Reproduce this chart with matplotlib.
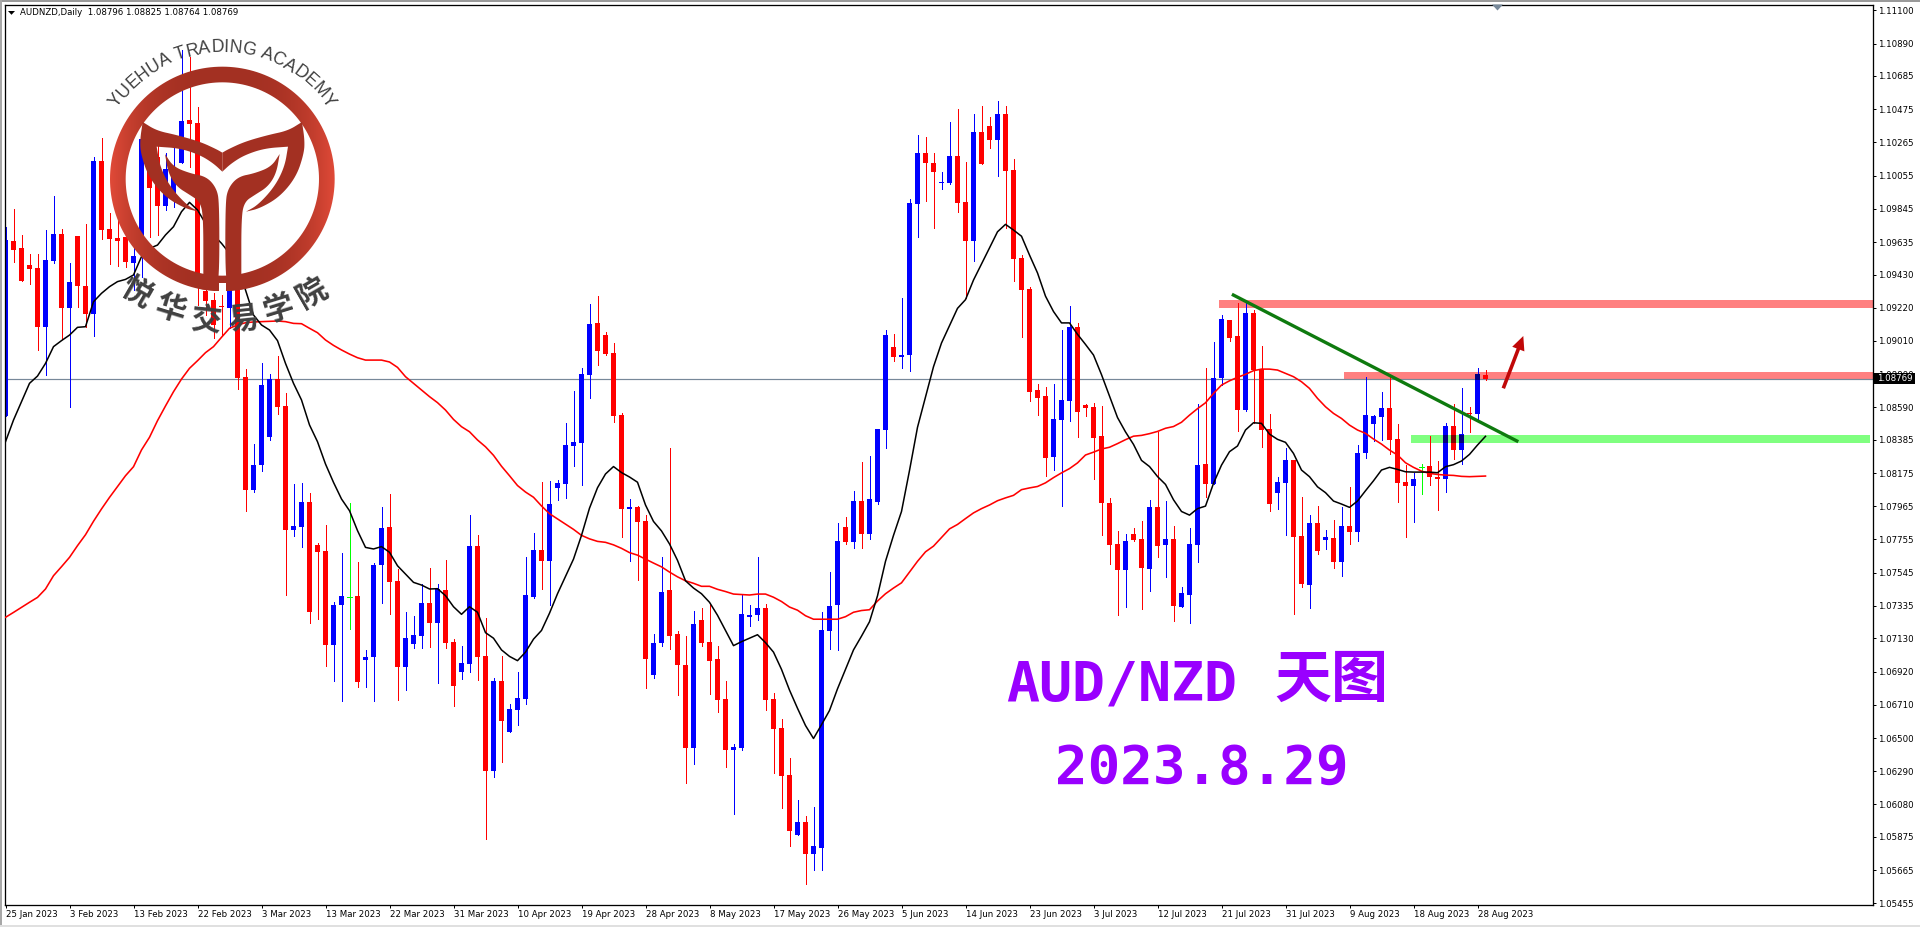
import numpy as np
import matplotlib
matplotlib.use("Agg")
import matplotlib.pyplot as plt
from matplotlib.patches import Rectangle, Polygon, PathPatch, FancyArrow
from matplotlib.path import Path

# ---------- data (prices in 1e-5 points) ----------
symbol_line = "AUDNZD,Daily  1.08796 1.08825 1.08764 1.08769"
date_labels = ["25 Jan 2023","3 Feb 2023","13 Feb 2023","22 Feb 2023","3 Mar 2023","13 Mar 2023","22 Mar 2023","31 Mar 2023",
               "10 Apr 2023","19 Apr 2023","28 Apr 2023","8 May 2023","17 May 2023","26 May 2023","5 Jun 2023","14 Jun 2023",
               "23 Jun 2023","3 Jul 2023","12 Jul 2023","21 Jul 2023","31 Jul 2023","9 Aug 2023","18 Aug 2023","28 Aug 2023"]
price_ticks = [1.11100,1.10890,1.10685,1.10475,1.10265,1.10055,1.09845,1.09635,1.09430,1.09220,1.09010,1.08800,1.08590,1.08385,
               1.08175,1.07965,1.07755,1.07545,1.07335,1.07130,1.06920,1.06710,1.06500,1.06290,1.06080,1.05875,1.05665,1.05455]
highs = [109732,109842,109680,109559,109559,109711,109926,109718,109503,109673,
109749,110173,110293,109819,109774,109817,109732,110322,110280,110259,
110196,110227,110849,110805,110489,109437,109311,109300,109479,109353,
108833,108358,108868,108801,108915,108681,108106,108112,108049,107733,
107846,107360,107669,107986,107613,107056,107606,107960,108042,107568,
107297,107271,107474,107575,107474,107625,107126,107082,107910,107783,
107256,106879,107021,106718,106915,107647,107795,108117,108123,108131,
108489,108691,108839,109243,109293,109066,108997,108552,108008,107967,
107912,107155,107647,108331,107174,107147,107306,107325,107344,107084,
106863,106464,107401,107344,107642,107347,106786,106622,106376,106109,
106005,106065,107295,107548,107860,107896,108061,108243,108284,108453,
109079,109054,109282,109907,110311,110298,110196,110077,110393,110476,
110138,110442,110494,110424,110526,110494,110160,109553,109354,108738,
108718,108738,109079,109230,109124,108609,108616,108600,108018,107808,
107787,107828,107871,108004,108435,107997,107839,107456,107827,108609,
108841,109003,109174,109142,109252,109258,109205,108978,108548,108150,
108333,108257,108023,107909,107966,107815,107878,107960,108086,108352,
108782,108541,108687,108788,108485,108225,108175,108232,108409,108251,
108491,108611,108712,108592,108839,108825]
lows = [108538,109511,109389,109370,108953,108795,109503,109020,108594,109224,
109100,109041,109654,109496,109484,109477,109332,109416,109669,109680,
109838,109859,110133,110111,109237,109174,109026,109047,109090,108706,
107937,108057,108190,108384,108548,107406,107779,107707,107227,107252,
106955,106860,106734,107189,106822,106822,106734,107353,107284,106740,
106804,107069,107069,107075,106848,107069,106702,106873,106917,106867,
105863,106256,106346,106535,106584,106718,107385,107440,107338,108003,
108016,108218,108098,108648,108858,108921,108497,107768,107617,107502,
106814,106882,107082,107060,106775,106218,106333,107084,106781,106666,
106314,106021,106423,107207,107246,106674,106281,106059,105819,105887,
105578,105666,105663,107060,107054,107729,107704,107704,107758,107979,
108334,108882,108842,108819,109666,109894,109724,109970,110002,109824,
109282,109514,110128,110230,110052,109722,109388,109034,108629,108544,
108158,108194,107966,108503,108401,108537,108137,107783,107602,107280,
107327,107745,107318,107431,107643,107519,107239,107326,107229,107612,
108025,108105,108731,109011,108442,108565,108489,108341,107937,107947,
107783,107284,107454,107321,107663,107694,107574,107524,107726,107745,
108270,108377,108383,108295,107992,107770,107865,108042,108099,107941,
108055,108263,108232,108434,108510,108764]
opens = [108538,109642,109597,109490,109471,109100,109515,109686,109220,109673,
109357,109180,110147,109718,109661,109665,109503,109585,110238,110175,
109863,109922,110135,110406,110388,109326,109269,109233,109220,109332,
108782,108070,108228,108405,108769,108599,107815,107834,107992,107720,
107682,107088,107341,107393,107398,106993,107012,107594,107834,107492,
106949,107094,107145,107353,107227,107436,107107,106917,106968,107714,
107016,106294,106863,106535,106674,106748,107393,107691,107617,108079,
108104,108344,108363,108792,109123,109047,108932,108541,107948,107959,
107869,106901,107098,107434,107155,106964,106439,107248,107109,106997,
106748,106426,106439,107267,107276,107325,106748,106565,106267,105887,
105972,105764,105805,107176,107340,107833,107736,107997,107790,107995,
108447,108970,108909,108921,109876,110198,110135,110009,110009,110178,
109887,109641,110329,110368,110282,110445,110090,109535,109338,108699,
108661,108275,108512,108630,109095,108605,108591,108408,107988,107726,
107564,107790,107758,107568,107959,107722,107758,107330,107404,107720,
108232,108105,108775,109142,109041,108573,109186,108832,108453,108048,
108112,108257,107777,107467,107859,107751,107764,107612,107840,107802,
108301,108485,108529,108586,108390,108118,108093,108215,108219,108147,
108137,108472,108320,108552,108548,108796]
closes = [109648,109587,109389,109465,109100,109522,109686,109220,109383,109357,
109180,110147,109711,109654,109642,109509,109547,110286,109975,109863,
110097,110080,110400,110381,109437,109262,109111,109227,109338,108776,
108070,108226,108731,108769,108594,107815,107840,107992,107297,107676,
107088,107341,107398,107393,106854,107012,107594,107827,107486,106949,
107132,107151,107353,107227,107442,107101,106829,106974,107714,107012,
106294,106863,106609,106685,106756,107401,107691,107617,107978,108109,
108350,108369,108801,109118,108945,108926,108536,107945,107959,107863,
107002,107103,107426,107147,106959,106439,107218,107103,106989,106743,
106426,106445,107287,107276,107325,106743,106560,106262,105915,105972,
105764,105819,107180,107334,107745,107738,107997,107790,108011,108453,
109047,108907,108918,109882,110198,110135,110077,110016,110178,109882,
109641,110329,110128,110282,110445,110083,109530,109334,108688,108650,
108273,108517,108636,109095,108559,108587,108397,107988,107722,107564,
107745,107751,107575,107959,107713,107758,107334,107416,107726,108225,
108105,108775,109148,109028,108573,109186,108826,108447,107979,108118,
108257,107770,107473,107859,107682,107770,107612,107840,107802,108301,
108541,108535,108586,108383,108112,108093,108137,108215,108150,108139,
108472,108320,108421,108548,108801,108769]
ma_fast = [108373,108510,108626,108742,108788,108868,108974,109012,109047,109096,
109100,109258,109311,109353,109385,109399,109427,109543,109595,109616,
109680,109732,109827,109886,109838,109753,109680,109627,109564,109479,
109332,109174,109111,109079,109012,108868,108742,108637,108479,108373,
108232,108116,108011,107937,107811,107705,107695,107710,107674,107589,
107537,107484,107467,107442,107444,107400,107330,107282,107330,107295,
107166,107131,107057,107016,106989,107043,107125,107180,107289,107412,
107522,107631,107781,107953,108082,108169,108216,108178,108150,108117,
107973,107869,107809,107727,107623,107494,107448,107412,107358,107276,
107180,107084,107109,107131,107153,107103,107043,106934,106803,106688,
106579,106497,106584,106674,106811,106934,107057,107144,107235,107399,
107617,107781,107932,108191,108464,108656,108847,108997,109107,109216,
109271,109395,109496,109598,109700,109747,109711,109672,109553,109440,
109293,109196,109124,109124,109052,108988,108921,108797,108661,108526,
108435,108356,108255,108216,108153,108103,108006,107932,107909,107950,
107966,108110,108225,108310,108346,108447,108493,108489,108421,108388,
108369,108299,108194,108152,108088,108051,107998,107979,107958,107998,
108063,108126,108194,108211,108198,108183,108181,108181,108181,108177,
108215,108228,108251,108293,108352,108407]
ma_slow = [107263,107294,107326,107358,107389,107442,107526,107583,107642,107716,
107785,107870,107948,108021,108089,108158,108215,108321,108401,108506,
108599,108689,108769,108837,108885,108936,108974,109033,109090,109111,
109125,109130,109132,109134,109136,109132,109121,109119,109090,109062,
109016,108982,108953,108927,108904,108889,108889,108889,108877,108843,
108784,108742,108700,108658,108620,108573,108514,108468,108436,108384,
108341,108287,108218,108158,108096,108055,108022,107967,107918,107885,
107852,107819,107781,107759,107743,107737,107721,107699,107672,107656,
107631,107606,107582,107549,107519,107494,107478,107459,107459,107440,
107426,107410,107407,107404,107410,107410,107390,107363,107328,107308,
107273,107251,107251,107251,107251,107267,107295,107306,107311,107366,
107412,107448,107481,107549,107617,107677,107713,107768,107822,107850,
107887,107923,107950,107973,108000,108018,108034,108070,108081,108090,
108113,108146,108176,108203,108239,108289,108307,108327,108338,108361,
108386,108408,108413,108424,108438,108458,108469,108496,108541,108582,
108619,108678,108731,108758,108780,108799,108822,108832,108832,108826,
108805,108784,108752,108710,108647,108594,108552,108520,108478,108447,
108426,108390,108358,108320,108289,108240,108211,108187,108173,108166,
108162,108160,108154,108152,108154,108156]
last_price = 1.08769
# levels: (first bar index, last bar index or None, low price, high price)
upper_band = (151.7, None, 1.09218, 1.09269)
mid_band = (167.3, None, 1.08763, 1.08814)
support_band = (175.7, 233.06, 1.08365, 1.08415)
trend_x = [153.3, 189.1]
trend_y = [1.09305, 1.08373]

H, L, O, C = [np.array(a) / 1e5 for a in (highs, lows, opens, closes)]
idx = np.arange(len(C))

W, HGT = 1920, 927
fig = plt.figure(figsize=(W / 100, HGT / 100), dpi=100, facecolor="white")
ax = fig.add_axes([4.5 / W, 1 - 904.5 / HGT, 1868 / W, 900 / HGT])
ax.set_xlim(-0.125, 233.375)
ax.set_ylim(1.054477, 1.111367)
px = 0.72
TICK_FS = 6.2

# levels behind the candles
BANDS = [(upper_band, "#FF8080"), (mid_band, "#FF8080"), (support_band, "#80FF80")]
for (x0, x1, lo, hi), col in BANDS:
    ax.add_patch(Rectangle((x0, lo), (x1 if x1 else 233.375) - x0, hi - lo, fc=col, ec="none", zorder=1))
ax.axhline(last_price, color="#778899", lw=px * 1.2, zorder=1.5)

# candles
up = C > O
flat = C == O
colors = np.where(flat, "#00FF00", np.where(up, "#0000FF", "#FF0000"))
ax.vlines(idx, L, H, colors=colors, lw=px, antialiased=False, zorder=2)
bw = 5 / 8
ax.bar(idx[~flat], np.abs(C - O)[~flat], bottom=np.minimum(O, C)[~flat], width=bw,
       color=colors[~flat], linewidth=0, zorder=2.1)
ax.hlines(O[flat], idx[flat] - bw / 2, idx[flat] + bw / 2, colors="#00FF00", lw=px, antialiased=False, zorder=2.1)

# AND-like blending of bodies where a band sits on them
for (x0, x1, lo, hi), col in BANDS:
    for i in idx:
        if i < x0:
            continue
        top = min(max(O[i], C[i]), hi)
        bot = max(min(O[i], C[i]), lo)
        if top <= bot:
            continue
        if up[i]:
            dark = "#000080"
        elif col == "#80FF80":
            dark = "#800000"
        else:
            continue
        ax.bar(i, top - bot, bottom=bot, width=bw, color=dark, linewidth=0, zorder=2.2)

ax.plot(idx, np.array(ma_slow) / 1e5, color="#FF0000", lw=1.15, zorder=3)
ax.plot(idx, np.array(ma_fast) / 1e5, color="#000000", lw=1.1, zorder=3.1)
ax.plot(trend_x, trend_y, color="#0E7A0E", lw=2.4, solid_capstyle="butt", zorder=4)

# axes
for s in ax.spines.values():
    s.set_linewidth(px * 1.3)
    s.set_color("black")
ax.yaxis.tick_right()
ax.set_yticks(price_ticks)
ax.set_yticklabels([f"{v:.5f}" for v in price_ticks])
ax.set_xticks(idx[::8])
ax.set_xticklabels(date_labels, ha="left")
ax.tick_params(axis="y", length=2.2, width=px, pad=2, labelsize=TICK_FS, labelcolor="black")
ax.tick_params(axis="x", length=2.2, width=px, pad=1.5, labelsize=TICK_FS, labelcolor="black")

# overlay in pixel coordinates
ov = fig.add_axes([0, 0, 1, 1], facecolor="none")
ov.set_axis_off()

# window chrome
ov.add_patch(Rectangle((0, 0), W, 1.8, fc="#9A9A9A", ec="none"))
ov.add_patch(Rectangle((0, 0), 1.8, HGT, fc="#A8A8A8", ec="none"))
ov.add_patch(Rectangle((0, 925), W, 2, fc="#E0E0E0", ec="none"))

# header
ov.add_patch(Polygon([(8, 11), (15, 11), (11.5, 14.8)], fc="black", ec="none"))
ov.text(20.5, 12.5, symbol_line, fontsize=TICK_FS, va="center", ha="left", color="black")
ov.add_patch(Polygon([(1492, 4.5), (1503, 4.5), (1497.5, 10.5)], fc="#778899", ec="none"))

# last price tag
ov.add_patch(Rectangle((1874, 373), 41, 11, fc="black", ec="none"))
ov.text(1877.5, 378.7, f"{last_price:.5f}", fontsize=TICK_FS, va="center", ha="left", color="white")

# arrow
ov.add_patch(FancyArrow(1503.3, 388.3, 20, -52.3, width=3.6, head_width=13, head_length=14,
                        length_includes_head=True, fc="#C00808", ec="none"))

# titles
ov.text(1006, 700, "AUD/NZD", fontsize=39.5, fontweight="bold", color="#9900FF", ha="left", va="baseline",
        family=["DejaVu Sans Mono"])
ov.text(1274, 680, "天图", fontsize=41, fontweight="bold", color="#9900FF", ha="left", va="center",
        family=["Noto Sans CJK SC"])
ov.text(1055, 784, "2023.8.29", fontsize=39, fontweight="bold", color="#9900FF", ha="left", va="baseline",
        family=["DejaVu Sans Mono"])

# logo (shape coordinates on a 3x grid)
def chaikin(points, n=3):
    p = np.array(points, float)
    for _ in range(n):
        q = np.roll(p, -1, axis=0)
        p = np.vstack([np.c_[0.75 * p + 0.25 * q], np.c_[0.25 * p + 0.75 * q]])[
            np.argsort(np.r_[np.arange(len(p)) * 2, np.arange(len(p)) * 2 + 1])]
    return p / 3

cx, cy, r_out, r_in = 667 / 3, 537 / 3, 337 / 3, 290 / 3
LOGO = "#A33022"
t = np.linspace(0, 2 * np.pi, 181)
verts = np.vstack([np.c_[cx + r_out * np.cos(t), cy + r_out * np.sin(t)],
                   np.c_[cx + r_in * np.cos(t[::-1]), cy + r_in * np.sin(t[::-1])]])
codes = [Path.MOVETO] + [Path.LINETO] * 180 + [Path.MOVETO] + [Path.LINETO] * 180
ring = PathPatch(Path(verts, codes), fc="none", ec="none")
ov.add_patch(ring)
gx = np.linspace(-1, 1, 256)
tt = np.abs(gx) ** 3
dark, light = np.array([0xA3, 0x30, 0x22]) / 255, np.array([0xE0, 0x4A, 0x38]) / 255
grad = (dark[None, :] + (light - dark)[None, :] * tt[:, None])[None, :, :]
im = ov.imshow(grad, extent=[cx - r_out, cx + r_out, cy + r_out, cy - r_out], aspect="auto", zorder=5)
im.set_clip_path(ring)
ov.set_xlim(0, W)
ov.set_ylim(HGT, 0)

arm = [(428,366),(470,392),(530,405),(600,425),(650,448),(667,458),(667,458),(667,515),(667,515),(640,490),(600,465),(540,445),(470,440),(470,440),
       (480,500),(510,560),(560,615),(596,635),(596,635),(554,625),(494,590),(445,530),(422,460),(420,420),(428,366)]
leaf = [(495,462),(495,462),(520,500),(570,520),(620,530),(650,565),(658,610),(658,840),(645,865),(620,872),(570,858),
        (585,820),(610,823),(610,823),(610,650),(600,605),(570,585),(530,560),(505,520)]
for shape in (arm, leaf):
    p = chaikin(shape)
    ov.add_patch(Polygon(p, fc=LOGO, ec="none", zorder=6))
    q = p.copy()
    q[:, 0] = 2 * cx - q[:, 0]
    ov.add_patch(Polygon(q, fc=LOGO, ec="none", zorder=6))
ov.add_patch(Rectangle((658 / 3, 850 / 3), 20 / 3, 30 / 3, fc="white", ec="none", zorder=5.5))

arc_text = "YUEHUA TRADING ACADEMY"
adv = {"Y":.667,"U":.722,"E":.667,"H":.722,"A":.667," ":.278,"T":.611,"R":.722,"D":.722,"I":.278,"N":.722,"G":.778,"C":.722,"M":.833}
em, R = 17.6, 127
s = 0.0
total = sum(adv[c] for c in arc_text) * em
for c in arc_text:
    a = adv[c] * em
    th = np.pi / 2 + (total / 2 - s - a / 2) / R
    ov.text(cx + R * np.cos(th), cy - R * np.sin(th), c, fontsize=12.7, color="#404040", family="Liberation Sans",
            ha="center", va="baseline", rotation=np.degrees(th) - 90, rotation_mode="anchor", zorder=7)
    s += a

cn_text = "悦华交易学院"
cn_pos = [(410, 878, -30), (510, 928, -17), (618, 962, -6), (730, 962, 6), (835, 928, 17), (935, 880, 30)]
for c, (x, y, rot) in zip(cn_text, cn_pos):
    ov.text(x / 3, y / 3, c, fontsize=22, fontweight="bold", color="#404040", family=["Noto Sans CJK SC"],
            ha="center", va="center", rotation=rot, rotation_mode="anchor", zorder=7)

fig.savefig("out.png", dpi=100)
